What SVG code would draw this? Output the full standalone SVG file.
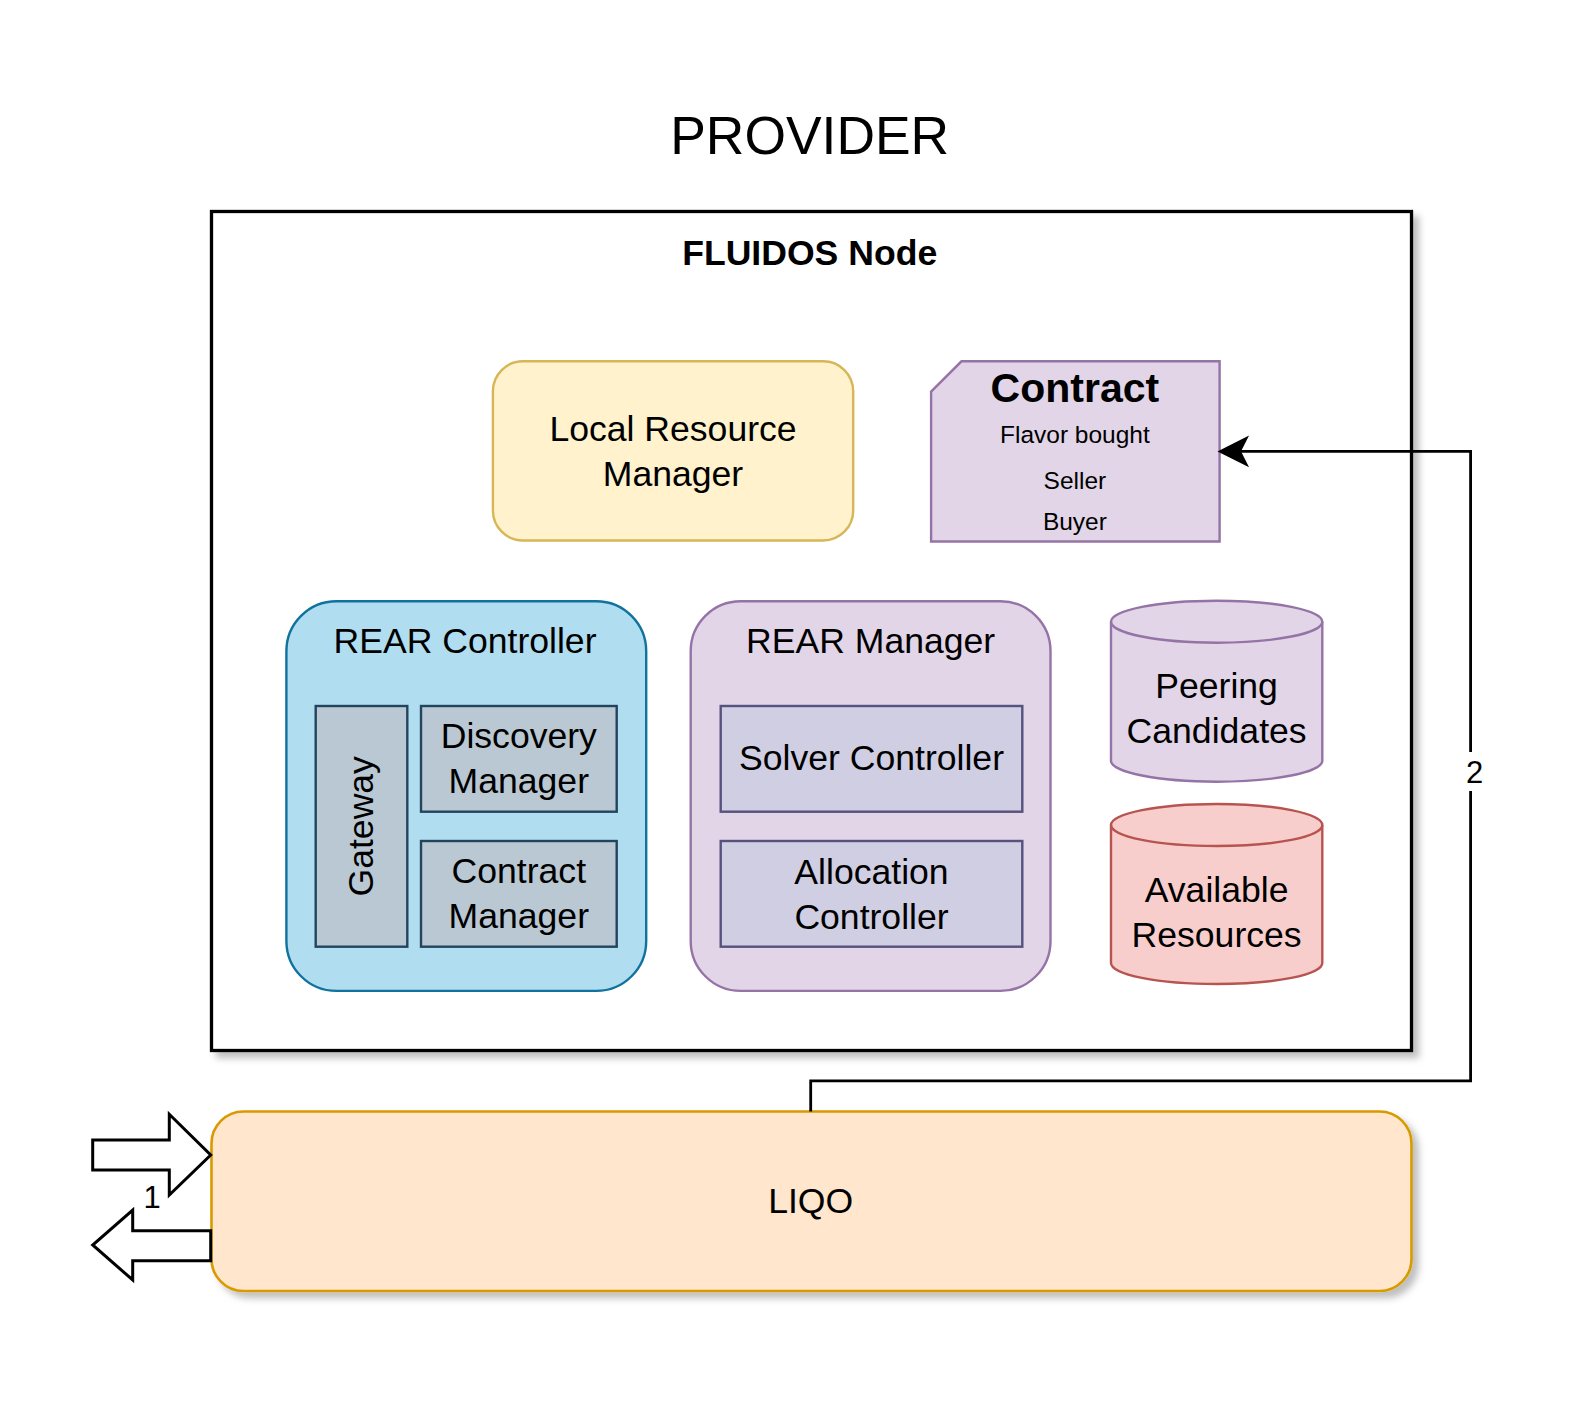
<svg xmlns="http://www.w3.org/2000/svg" width="1587" height="1404" viewBox="0 0 1587 1404">
<defs>
<style>
.t{font-family:"Liberation Sans",Arial,Helvetica,sans-serif;fill:#000;text-anchor:middle}
.m{font-size:35.6px}
.s{font-size:24.5px}
.lbl{font-size:31px}
.sub{stroke-width:2.4}
</style>
<filter id="shadow" x="-5%" y="-5%" width="115%" height="120%">
<feDropShadow dx="6" dy="6" stdDeviation="3.5" flood-color="#000" flood-opacity="0.25"/>
</filter>
</defs>
<rect width="1587" height="1404" fill="#fff"/>
<text class="t" x="809.7" y="153.8" style="font-size:53.4px">PROVIDER</text>

<g id="fluidos-node">
<rect x="211.5" y="211.5" width="1200" height="839" fill="#fff" stroke="#000" stroke-width="3.3" filter="url(#shadow)"/>
<text class="t" x="809.7" y="265" style="font-size:35.6px;font-weight:bold">FLUIDOS Node</text>
</g>

<g id="local-resource-manager">
<rect x="492.9" y="361.3" width="360.3" height="179.2" rx="30" fill="#fff2cc" stroke="#d6b656" stroke-width="2.4"/>
<text class="t m" x="673" y="441.4">Local Resource</text>
<text class="t m" x="673" y="485.9">Manager</text>
</g>

<g id="contract">
<path d="M931.1,391.7 L961.5,361.3 L1219.6,361.3 L1219.6,541.5 L931.1,541.5 Z" fill="#e1d5e7" stroke="#9673a6" stroke-width="2.4"/>
<text class="t" x="1074.9" y="401.8" style="font-size:41px;font-weight:bold">Contract</text>
<text class="t s" x="1074.9" y="443.3">Flavor bought</text>
<text class="t s" x="1074.9" y="488.8">Seller</text>
<text class="t s" x="1074.9" y="530.3">Buyer</text>
</g>

<g id="rear-controller">
<rect x="286.4" y="601.2" width="359.8" height="389.7" rx="50" fill="#b1ddf0" stroke="#10739e" stroke-width="2.4"/>
<text class="t m" x="465" y="653.3">REAR Controller</text>
</g>
<g id="gateway">
<rect x="315.7" y="706" width="91.6" height="240.7" fill="#bac8d3" stroke="#23445d" stroke-width="2.4"/>
<text class="t m" transform="translate(372.5,826.3) rotate(-90)" x="0" y="0">Gateway</text>
</g>
<g id="discovery-manager">
<rect x="421" y="706" width="195.7" height="105.7" fill="#bac8d3" stroke="#23445d" stroke-width="2.4"/>
<text class="t m" x="518.8" y="748.3">Discovery</text>
<text class="t m" x="518.8" y="793.3">Manager</text>
</g>
<g id="contract-manager">
<rect x="421" y="841" width="195.7" height="105.7" fill="#bac8d3" stroke="#23445d" stroke-width="2.4"/>
<text class="t m" x="518.8" y="883.3">Contract</text>
<text class="t m" x="518.8" y="928.3">Manager</text>
</g>

<g id="rear-manager">
<rect x="690.7" y="601.2" width="359.8" height="389.7" rx="50" fill="#e1d5e7" stroke="#9673a6" stroke-width="2.4"/>
<text class="t m" x="870.6" y="652.7">REAR Manager</text>
</g>
<g id="solver-controller">
<rect x="720.7" y="706" width="301.6" height="105.7" fill="#d0cee2" stroke="#56517e" stroke-width="2.4"/>
<text class="t m" x="871.5" y="770">Solver Controller</text>
</g>
<g id="allocation-controller">
<rect x="720.7" y="841" width="301.6" height="105.7" fill="#d0cee2" stroke="#56517e" stroke-width="2.4"/>
<text class="t m" x="871.5" y="884">Allocation</text>
<text class="t m" x="871.5" y="929.3">Controller</text>
</g>

<g id="peering-candidates">
<path d="M1111,621.7 A105.65,21 0 0 1 1322.3,621.7 L1322.3,760.7 A105.65,21 0 0 1 1111,760.7 Z" fill="#e1d5e7" stroke="#9673a6" stroke-width="2.4"/>
<path d="M1111,621.7 A105.65,21 0 0 0 1322.3,621.7" fill="none" stroke="#9673a6" stroke-width="2.4"/>
<text class="t m" x="1216.6" y="698.3">Peering</text>
<text class="t m" x="1216.6" y="742.7">Candidates</text>
</g>

<g id="available-resources">
<path d="M1111,825 A105.65,21 0 0 1 1322.3,825 L1322.3,963 A105.65,21 0 0 1 1111,963 Z" fill="#f8cecc" stroke="#b85450" stroke-width="2.4"/>
<path d="M1111,825 A105.65,21 0 0 0 1322.3,825" fill="none" stroke="#b85450" stroke-width="2.4"/>
<text class="t m" x="1216.6" y="901.7">Available</text>
<text class="t m" x="1216.6" y="946.7">Resources</text>
</g>

<g id="liqo">
<rect x="211.5" y="1111.5" width="1200" height="179.5" rx="32" fill="#ffe6cc" stroke="#d79b00" stroke-width="2.6" filter="url(#shadow)"/>
<text class="t m" x="810.7" y="1212.5">LIQO</text>
</g>

<g id="connectors">
<path d="M810.7,1111.5 L810.7,1080.9 L1470.6,1080.9 L1470.6,451.4 L1238,451.4" fill="none" stroke="#000" stroke-width="2.8"/>
<path d="M1220.5,451.4 L1246,438.5 L1239.5,451.4 L1246,464.3 Z" fill="#000" stroke="#000" stroke-width="2.7" stroke-linejoin="miter"/>
<rect x="1463" y="752" width="24" height="39" fill="#fff"/>
<text class="t lbl" x="1474.5" y="782.5">2</text>
<path d="M92.7,1140 L169.3,1140 L169.3,1114.3 L210.7,1155 L169.3,1195 L169.3,1170 L92.7,1170 Z" fill="#fff" stroke="#000" stroke-width="3"/>
<path d="M210.7,1230.7 L132.7,1230.7 L132.7,1210 L92.7,1245 L132.7,1280 L132.7,1260.7 L210.7,1260.7 Z" fill="#fff" stroke="#000" stroke-width="3"/>
<text class="t lbl" x="152" y="1208.3">1</text>
</g>
</svg>
